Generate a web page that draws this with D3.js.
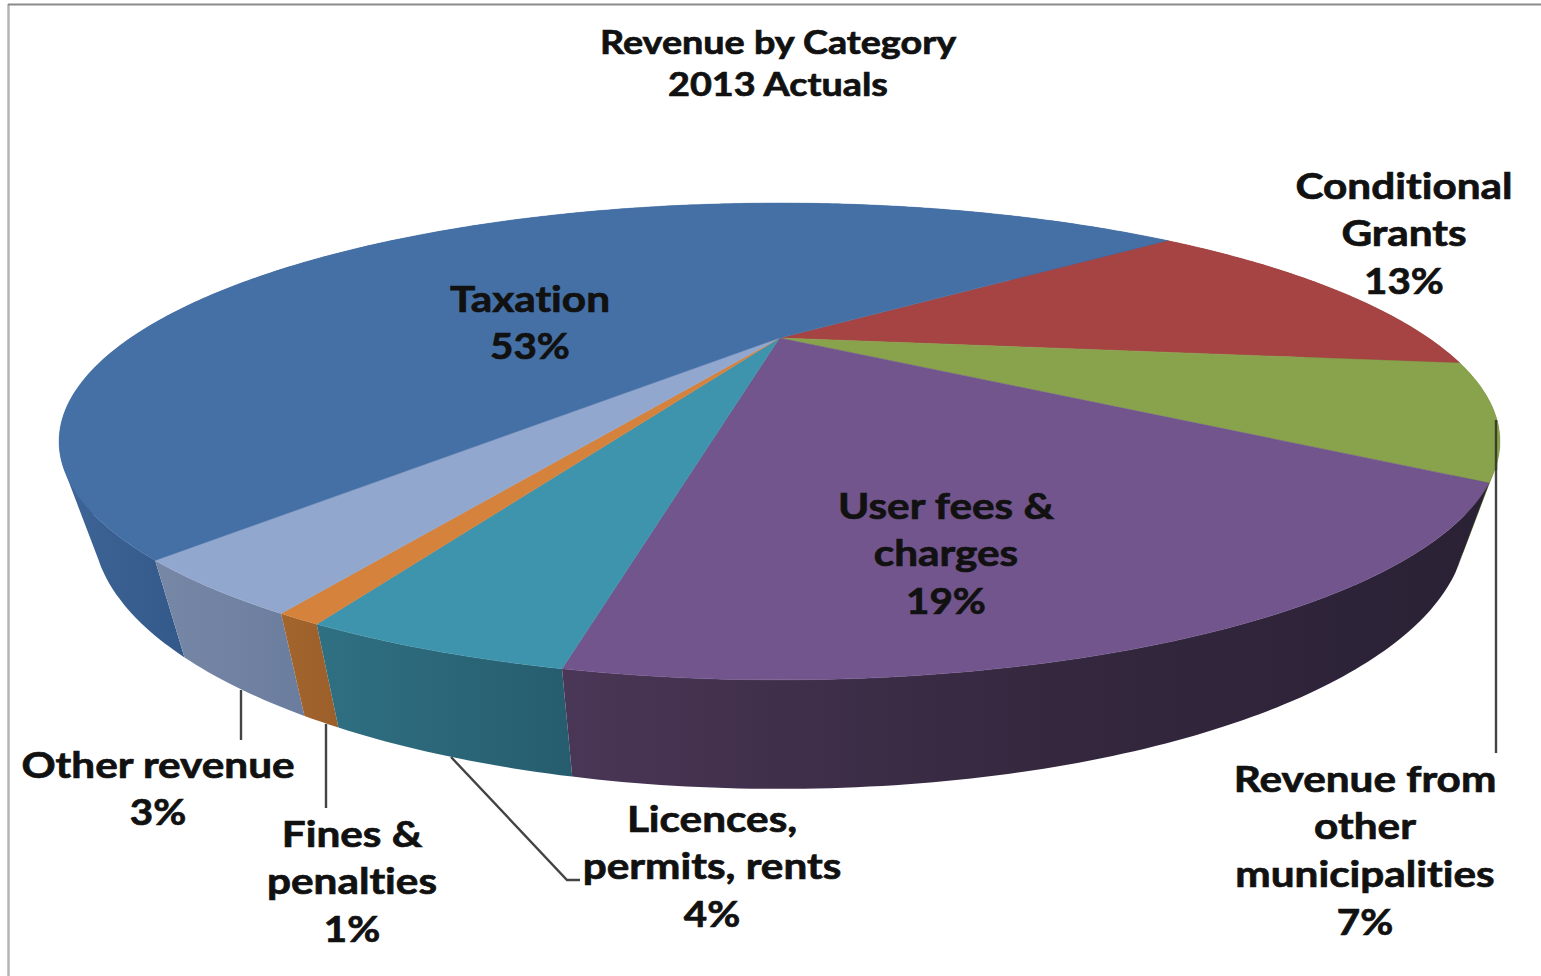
<!DOCTYPE html>
<html><head><meta charset="utf-8">
<script src="https://cdn.jsdelivr.net/npm/d3@7"></script>
<style>html,body{margin:0;padding:0;background:#fff;overflow:hidden}svg{display:block}
text{font-family:Lato,"Open Sans",sans-serif;font-weight:700;fill:#111;stroke:#111;stroke-width:.7;text-anchor:middle;font-variant-ligatures:none;font-feature-settings:"liga" 0}</style>
</head><body>
<svg id="c" width="1541" height="976"></svg>
<script>
const categories = ["Conditional Grants","Revenue from other municipalities","User fees & charges","Licences, permits, rents","Fines & penalties","Other revenue","Taxation"];
const values = [13.1, 7.6, 18.52, 4.07, 0.72, 3.22, 52.77];
const percentLabels = ["13%","7%","19%","4%","1%","3%","53%"];
const labelLines = [["Conditional","Grants"],["Revenue from","other","municipalities"],["User fees &","charges"],["Licences,","permits, rents"],["Fines &","penalties"],["Other revenue"],["Taxation"]];
const titleLines = ["Revenue by Category","2013 Actuals"];

const topColors = ["#a64444","#88a34c","#71558c","#3f94ad","#d5823c","#92a7ce","#4570a6"];
const wallStops = [["#7a2f2f","#7a2f2f"],["#5e7033","#5e7033"],["#4a3656","#35283f","#2a2135"],["#2f7082","#265d6e"],["#a3652d","#9c5f2a"],["#7787a6","#6b7d9e"],["#3f6597","#33588a"]];

const svg = d3.select("#c");
// page frame
svg.append("line").attr("x1",8.5).attr("x2",8.5).attr("y1",4).attr("y2",976).attr("stroke","#b4b4b4").attr("stroke-width",2.5);
svg.append("line").attr("x1",8).attr("x2",1541).attr("y1",4.5).attr("y2",4.5).attr("stroke","#8a8a8a").attr("stroke-width",1.8);

// perspective projection of the unit disc on the screen
const cx=779.5, cy=338, A=649, B=193.5, P=0.434;
const project = (t)=>{const u=Math.sin(t), v=-Math.cos(t), w=1-P*v; return [cx+A*u/w, cy+B*v/w];};
const apex=[cx,cy];
// lower rim of the wall
const wallX = d3.scaleLinear().domain([cx,cx+100]).range([cx,cx+95.3]);
const wallY = d3.scaleLinear().domain([0,100]).range([41,151]);
const lower = p=>[wallX(p[0]),wallY(p[1])];

const startDeg = 49.9;
const pie = d3.pie().sort(null).value(d=>d).startAngle(startDeg*Math.PI/180).endAngle((startDeg+360)*Math.PI/180);
const arcs = pie(values);
const line = d3.line();
const samples = a=>{const n=Math.max(4,Math.ceil((a.endAngle-a.startAngle)/0.012));
  return d3.range(n+1).map(i=>a.startAngle+(a.endAngle-a.startAngle)*i/n);};

const defs = svg.append("defs");
arcs.forEach((a,i)=>{
  // the gradient spans only the front-facing part of the wall
  const front = samples(a).filter(t=>Math.cos(t)<0).map(project);
  const xs = front.length? front.concat(front.map(lower)).map(p=>p[0]) : samples(a).map(t=>project(t)[0]);
  const g = defs.append("linearGradient").attr("id","w"+i).attr("gradientUnits","userSpaceOnUse")
    .attr("x1",d3.min(xs)).attr("x2",d3.max(xs)).attr("y1",0).attr("y2",0);
  wallStops[i].forEach((c,k,all)=>g.append("stop").attr("offset",k/(all.length-1)).attr("stop-color",c));
});
// leader lines under the pie
const leaders = [[[241,690],[241,740]],[[326,724],[326,808]],[[451,757],[567,880],[580,880]],[[1496,420],[1496,753]]];
svg.append("g").selectAll("path").data(leaders).join("path").attr("d",d=>line(d))
  .attr("fill","none").attr("stroke","#444").attr("stroke-width",2.4);

// walls, far to near; each wall is a run of quads so its outline follows the tangent of both rims
const wallPath = i=>{
  const ts = samples(arcs[i]);
  return d3.range(ts.length-1).map(k=>{
    const a=project(ts[k]), b=project(ts[k+1]);
    let q=[a,b,lower(b),lower(a)];
    if(d3.polygonArea(q)<0) q=q.reverse();
    return line(q)+"Z";
  }).join("");
};
const order = [0,1,6,5,4,3,2];
svg.append("g").selectAll("path").data(order).join("path")
  .attr("d",wallPath).attr("fill",i=>`url(#w${i})`);
// top faces
svg.append("g").selectAll("path").data(arcs).join("path")
  .attr("d",a=>line([apex].concat(samples(a).map(project)))+"Z")
  .attr("fill",(a,i)=>topColors[i]).attr("stroke",(a,i)=>topColors[i]).attr("stroke-width",0.5);
// the part of the last leader that runs over the rim
svg.append("line").attr("x1",1496).attr("x2",1496).attr("y1",420).attr("y2",470).attr("stroke","#3a3f2a").attr("stroke-width",2.4);

// texts
const fs = 36, stretch = 1.175, digitStretch = 1.12;
const labelAnchors = [[1404,198.5],[1365,791.5],[946,518.5],[712,831.5],[352,846.5],[158,777.5],[530,311.5]];
const step = 47.7;
svg.append("g").selectAll("g").data(categories).join("g")
  .attr("transform",(d,i)=>`translate(${labelAnchors[i][0]},${labelAnchors[i][1]})`)
  .each(function(d,i){
    const g=d3.select(this);
    labelLines[i].concat([percentLabels[i]]).forEach((s,k,all)=>{
      const sx = k===all.length-1 ? digitStretch : stretch;
      g.append("text").attr("font-size",fs)
        .attr("transform",`translate(0,${k*step}) scale(${sx},1)`).text(s);
    });
  });
svg.append("g").selectAll("text").data(titleLines).join("text")
  .attr("transform",(d,i)=>`translate(778,${53.5+i*42.5}) scale(1.18,1)`)
  .attr("font-size",32).text(d=>d);
</script>
</body></html>
